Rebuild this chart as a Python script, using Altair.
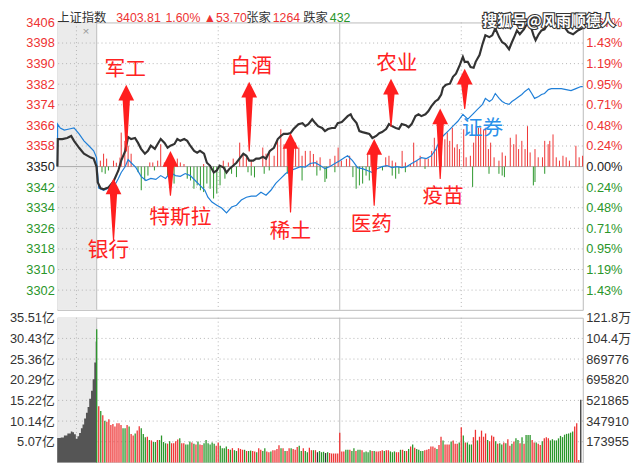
import altair as alt
import pandas as pd

# ---------------- data ----------------
black_line = [(-19.4, 3350.0), (-19.2, 3360.7), (-17.0, 3360.7), (-14.6, 3361.1), (-12.6, 3361.9), (-11.2, 3360.0),
    (-8.7, 3357.3), (-6.3, 3355.0), (-2.9, 3353.5), (-1.5, 3353.1), (-0.1, 3350.0),
    (0.5, 3343.9), (1.9, 3341.6), (3.4, 3341.2), (5.8, 3341.9), (8.3, 3344.2), (10.7, 3348.5), (12.1, 3352.3),
    (14.1, 3356.1), (15.5, 3361.5), (17.0, 3360.7), (18.9, 3361.1), (20.4, 3359.2), (21.9, 3356.9), (23.8, 3355.0),
    (25.3, 3356.1), (26.7, 3358.1), (28.7, 3356.9), (30.1, 3358.8), (31.6, 3360.7), (33.5, 3359.2), (35.0, 3357.3),
    (36.4, 3358.1), (38.4, 3358.8), (39.8, 3360.7), (41.3, 3360.0), (43.2, 3360.7), (44.7, 3360.0), (46.2, 3358.1),
    (48.1, 3356.1), (49.6, 3355.4), (51.0, 3356.1), (53.0, 3355.0), (54.4, 3351.5), (55.9, 3350.4), (57.8, 3347.7),
    (59.3, 3348.5), (60.7, 3350.4), (62.7, 3349.6), (64.1, 3347.7), (65.6, 3349.2), (67.5, 3350.4), (69.0, 3351.5),
    (70.5, 3353.1), (72.4, 3355.0), (73.9, 3354.2), (75.3, 3352.3), (77.3, 3352.3), (78.7, 3353.1), (80.2, 3353.1),
    (82.1, 3353.8), (83.6, 3353.1), (85.5, 3356.1), (87.5, 3357.3), (89.4, 3360.7), (90.9, 3361.9), (92.3, 3362.7),
    (94.3, 3362.7), (95.7, 3363.0), (97.2, 3364.6), (99.6, 3366.5), (101.6, 3366.9), (103.0, 3365.7), (104.5, 3366.5),
    (106.4, 3368.4), (107.9, 3366.9), (109.3, 3365.7), (111.3, 3365.0), (112.7, 3363.8), (114.2, 3364.6), (116.1, 3365.0),
    (117.6, 3365.0), (119.0, 3366.9), (121.0, 3367.3), (122.4, 3368.4), (123.9, 3369.6), (125.4, 3370.3), (126.3, 3368.8),
    (128.3, 3366.9), (129.7, 3363.8), (131.2, 3363.4), (133.1, 3363.0), (134.6, 3362.7), (136.1, 3361.1), (138.0, 3361.9),
    (139.5, 3363.0), (140.9, 3363.4), (142.9, 3364.6), (144.3, 3366.5), (145.8, 3365.7), (147.7, 3365.0), (149.2, 3364.6),
    (150.6, 3366.5), (152.6, 3366.1), (154.0, 3365.3), (155.5, 3366.5), (157.4, 3369.6), (158.9, 3370.3), (160.3, 3369.6),
    (162.3, 3370.3), (163.7, 3371.5), (165.2, 3373.4), (167.1, 3375.3), (168.6, 3376.1), (170.1, 3378.0), (171.0, 3380.7),
    (172.5, 3381.8), (174.4, 3382.2), (175.9, 3384.9), (177.4, 3386.1), (179.3, 3389.5), (180.8, 3392.6), (181.7, 3390.7),
    (183.2, 3390.7), (184.6, 3388.7), (186.1, 3388.4), (187.1, 3390.7), (189.0, 3393.3), (190.5, 3397.6), (191.9, 3401.0),
    (193.9, 3400.3), (195.3, 3401.0), (196.8, 3403.7), (198.7, 3400.3), (200.2, 3398.3), (201.7, 3397.6), (203.6, 3395.6),
    (205.0, 3398.3), (206.5, 3401.0), (207.5, 3402.9), (208.9, 3401.4), (210.9, 3403.3), (212.3, 3405.2), (213.8, 3405.8),
    (215.7, 3401.0), (216.7, 3399.1), (218.2, 3401.4), (219.6, 3402.9), (221.1, 3403.3), (223.0, 3405.8), (224.5, 3404.9),
    (226.0, 3404.1), (227.9, 3405.2), (230.3, 3404.9), (232.8, 3402.2), (235.2, 3401.4), (237.6, 3402.9), (240.0, 3403.8)]

blue_line = [(-19.4, 3350.0), (-19.3, 3366.5), (-18.0, 3365.0), (-16.0, 3364.2), (-13.6, 3364.6), (-11.2, 3365.0),
    (-8.7, 3362.7), (-6.3, 3360.0), (-3.9, 3358.1), (-1.5, 3356.1), (-0.1, 3353.5),
    (1.0, 3341.6), (3.4, 3340.8), (5.8, 3341.6), (8.3, 3341.9), (10.7, 3345.4), (12.1, 3347.7), (14.1, 3350.0),
    (15.5, 3352.7), (17.0, 3351.5), (19.4, 3349.6), (21.9, 3346.2), (24.3, 3344.6), (26.7, 3345.4), (29.2, 3345.0),
    (31.6, 3346.5), (34.0, 3345.4), (36.4, 3347.7), (38.9, 3346.5), (41.3, 3346.2), (43.7, 3347.3), (46.2, 3346.5),
    (48.6, 3344.6), (51.0, 3342.7), (53.4, 3340.8), (54.9, 3338.1), (56.9, 3336.2), (59.3, 3335.0), (61.7, 3333.9),
    (64.1, 3332.0), (66.6, 3334.3), (69.0, 3335.0), (71.4, 3337.0), (73.9, 3338.1), (76.3, 3338.5), (78.7, 3338.5),
    (81.1, 3340.0), (83.6, 3338.9), (86.0, 3340.8), (88.4, 3343.5), (90.9, 3345.4), (93.3, 3347.3), (95.7, 3348.5),
    (98.2, 3349.2), (100.6, 3350.0), (103.0, 3349.8), (105.4, 3351.2), (107.9, 3351.5), (110.3, 3350.4), (112.7, 3349.2),
    (115.2, 3350.0), (117.6, 3351.2), (120.0, 3352.3), (122.4, 3353.5), (123.9, 3354.2), (126.3, 3352.3), (128.8, 3349.6),
    (131.2, 3349.2), (133.6, 3348.5), (136.1, 3347.7), (138.5, 3349.2), (140.9, 3350.0), (143.3, 3350.4), (145.8, 3349.6),
    (148.2, 3350.0), (150.6, 3349.6), (153.1, 3350.0), (155.5, 3351.2), (157.9, 3352.3), (160.3, 3353.5), (162.8, 3353.1),
    (165.2, 3354.2), (167.6, 3356.9), (168.6, 3358.8), (171.0, 3361.9), (173.5, 3363.8), (175.9, 3365.7), (178.3, 3367.6),
    (180.8, 3370.3), (183.2, 3368.4), (185.6, 3370.3), (188.0, 3372.2), (190.5, 3374.2), (191.9, 3376.5), (193.9, 3375.3),
    (195.3, 3376.1), (196.8, 3378.4), (198.7, 3376.5), (200.2, 3375.3), (201.7, 3374.6), (203.6, 3374.2), (205.0, 3375.3),
    (206.5, 3376.1), (208.5, 3377.2), (209.9, 3378.0), (211.4, 3379.2), (213.3, 3380.3), (214.8, 3378.4), (216.2, 3376.5),
    (218.2, 3377.2), (219.6, 3378.0), (221.1, 3378.4), (223.0, 3379.9), (224.5, 3380.3), (226.9, 3380.3), (229.4, 3380.3),
    (231.8, 3379.9), (234.2, 3379.5), (236.6, 3380.3), (239.1, 3381.1), (240.0, 3381.1)]

strength_up = [(1.8, 2.3), (3.4, 5.0), (4.9, 3.1), (8.3, 2.3), (9.7, 1.5), (11.5, 3.5), (12.1, 13.2), (13.9, 10.0),
    (15.5, 8.1), (17.0, 5.0), (26.2, 1.6), (27.7, 1.6), (30.1, 2.3), (31.6, 8.7), (33.4, 1.6), (39.8, 3.1), (41.3, 1.6),
    (43.1, 1.0), (52.8, 1.0), (62.5, 2.3), (65.0, 1.6), (67.4, 3.1), (70.6, 9.3), (72.3, 5.0), (73.9, 3.6), (76.3, 2.3),
    (82.0, 7.4), (83.6, 5.0), (85.2, 6.1), (87.6, 4.2), (89.3, 10.0), (90.9, 14.5), (92.5, 8.7), (94.1, 6.8), (96.6, 8.7),
    (98.2, 9.3), (99.8, 7.4), (101.4, 4.2), (103.0, 6.1), (105.4, 6.1), (107.0, 4.9), (108.7, 2.3), (110.3, 3.6),
    (115.2, 3.0), (117.6, 4.2), (119.2, 7.4), (120.8, 2.3), (123.3, 3.0), (124.9, 4.2), (133.8, 4.9), (135.4, 6.8),
    (142.7, 3.6), (144.3, 4.2), (145.9, 2.3), (147.6, 1.6), (150.8, 6.1), (152.4, 1.6), (154.9, 1.0), (156.5, 9.3),
    (158.1, 2.3), (159.7, 4.2), (162.1, 3.0), (163.7, 3.1), (165.4, 6.1), (166.7, 11.2), (167.8, 7.4), (169.4, 6.8),
    (170.2, 12.5), (171.9, 10.6), (173.1, 13.2), (174.3, 10.0), (175.6, 15.1), (176.7, 7.4), (178.0, 8.7), (179.1, 6.8),
    (181.2, 14.5), (182.4, 3.6), (184.5, 4.2), (186.1, 9.3), (187.2, 15.7), (188.5, 15.1), (189.6, 15.1), (191.0, 14.5),
    (192.1, 15.1), (193.4, 6.8), (194.5, 9.3), (196.2, 3.6), (198.6, 2.3), (200.2, 5.5), (201.8, 4.2), (204.2, 11.2),
    (205.9, 8.7), (207.1, 12.5), (208.3, 6.8), (209.9, 10.0), (211.5, 6.8), (212.7, 15.7), (214.0, 5.5), (216.4, 6.8),
    (218.0, 3.6), (220.1, 3.6), (221.2, 10.0), (222.9, 8.7), (223.7, 10.0), (225.3, 12.5), (226.9, 3.6), (228.5, 2.3),
    (230.2, 4.2), (231.8, 3.6), (233.4, 2.3), (236.6, 8.1), (238.2, 3.6), (239.9, 4.2)]

strength_down = [(2.6, -2.2), (4.2, -2.8), (5.8, -1.5), (20.4, -2.2), (22.0, -9.2), (23.7, -5.4), (25.3, -3.5),
    (28.5, -1.5), (35.0, -3.5), (36.6, -2.2), (38.2, -6.6), (44.7, -4.7), (46.3, -5.4), (48.0, -8.6), (49.6, -7.3),
    (51.2, -9.2), (52.8, -9.9), (54.4, -6.6), (56.0, -8.6), (57.7, -12.4), (59.3, -10.5), (60.9, -7.3), (63.3, -4.7),
    (66.6, -2.8), (69.0, -4.1), (74.7, -2.2), (76.3, -3.5), (77.9, -4.2), (82.7, -2.8), (85.2, -1.5), (94.1, -2.8),
    (101.4, -5.4), (108.7, -3.5), (110.3, -1.5), (112.7, -6.0), (113.5, -4.7), (117.6, -2.2), (126.5, -4.1),
    (128.1, -8.6), (129.7, -7.3), (131.3, -6.6), (133.0, -3.5), (134.6, -5.4), (136.2, -2.8), (141.1, -1.5),
    (145.9, -3.5), (147.6, -4.7), (149.2, -2.8), (152.4, -2.2), (162.1, -0.9), (185.6, -7.9), (193.7, -2.8),
    (198.6, -2.8), (200.2, -3.5), (201.3, -4.1), (215.6, -7.3), (216.4, -6.0), (221.2, -2.8)]

# minute volume (亿), minutes 0..239
vol_values = [32.7, 13.8, 12.6, 11.6, 10.2, 10.0, 10.6, 9.2, 9.4, 8.8, 9.6, 9.6, 9.2, 8.4, 8.4, 9.2, 8.8, 7.0, 6.6, 7.1,
    7.8, 8.9, 8.4, 7.0, 6.2, 6.3, 5.5, 5.4, 5.0, 5.0, 5.5, 5.5, 6.6, 5.0, 4.7, 4.6, 5.2, 4.7, 4.7, 5.2,
    5.6, 5.9, 4.7, 4.7, 4.4, 4.4, 5.1, 4.9, 4.6, 4.4, 5.1, 4.4, 4.3, 4.7, 5.5, 4.7, 4.4, 4.9, 4.6, 4.1,
    4.9, 4.1, 3.5, 3.5, 3.9, 3.3, 3.1, 3.5, 3.0, 2.8, 3.5, 3.3, 3.1, 3.1, 2.8, 2.8, 2.9, 2.8, 2.7, 2.5,
    3.5, 3.1, 2.8, 3.5, 2.7, 2.5, 2.7, 3.0, 3.0, 3.3, 4.2, 3.5, 3.5, 2.8, 2.8, 3.5, 3.5, 3.3, 3.1, 3.8,
    4.1, 2.8, 3.5, 2.8, 2.5, 3.6, 3.0, 3.0, 3.0, 2.5, 2.8, 2.5, 2.6, 2.3, 2.5, 2.3, 2.2, 2.2, 2.2, 2.2,
    7.3, 2.7, 2.7, 3.1, 3.1, 3.1, 2.8, 3.5, 2.8, 3.1, 3.1, 3.0, 2.5, 2.7, 2.5, 3.0, 2.8, 2.8, 2.7, 2.7,
    2.8, 3.0, 2.8, 3.0, 3.0, 2.7, 2.5, 2.7, 2.5, 2.5, 3.1, 3.1, 2.8, 2.8, 3.3, 3.9, 4.4, 3.6, 3.3, 3.1,
    2.8, 2.8, 3.0, 3.1, 3.3, 3.9, 3.9, 3.6, 3.3, 4.3, 6.3, 5.4, 4.4, 4.4, 4.4, 5.1, 5.4, 4.6, 4.6, 4.9,
    8.6, 6.6, 4.9, 4.9, 4.4, 4.4, 6.2, 8.0, 5.4, 6.3, 7.8, 6.3, 7.1, 5.5, 5.2, 6.6, 6.3, 5.2, 4.6, 4.7,
    4.4, 4.9, 4.7, 5.7, 4.1, 4.6, 5.1, 5.9, 5.5, 4.7, 6.2, 4.6, 6.7, 6.7, 6.7, 5.5, 4.9, 4.9, 4.6, 4.3,
    5.2, 5.9, 6.2, 5.9, 5.4, 5.7, 5.4, 5.4, 5.9, 6.5, 6.2, 6.8, 7.0, 7.1, 7.3, 7.6, 8.8, 9.6, 0.6, 15.4]
# bar colour per minute: r = up, g = down, k = flat / closing auction (groups of ten minutes)
vol_codes = ("grgrgrrrrr rrrggrgrrg rrgggrgrgg rggggrgrrr rgrrgggrgr grrggggggr"
             " rggggrgrgg rrrgrggrrg rrggrrgrrr rgrgrrgrrr ggrggrrgrk ggg kgrrrrr"
             " rrrggrggrg grggggrgrr rrgrrgggrr grgrgrgrgg ggrrrrrrgr rgrrrgrrrg"
             " rgrgggrrgr rrrgrrrgrg grgrrgrggr grgggrrgrr grrrgggggg ggggggrrrk").replace(" ", "")

auction_vol = [(-19.5, 6.0), (-17.8, 6.1), (-16.2, 6.6), (-14.5, 7.1), (-12.8, 7.6), (-12.0, 7.4), (-11.2, 6.9),
    (-10.3, 5.8), (-9.5, 6.4), (-8.7, 7.2), (-7.8, 8.4), (-7.0, 9.3), (-6.2, 10.8), (-5.3, 12.2), (-4.5, 13.6),
    (-3.7, 15.6), (-2.8, 17.6), (-2.0, 20.4), (-1.2, 24.5), (-0.5, 29.7), (0.0, 29.7)]

price_ticks = [3302, 3310, 3318, 3326, 3334, 3342, 3350, 3358, 3366, 3374, 3382, 3390, 3398, 3406]
pct_labels = ["0.00%", "0.24%", "0.48%", "0.71%", "0.95%", "1.19%", "1.43%", "1.67%"]
vol_ticks = [5.07, 10.14, 15.22, 20.29, 25.36, 30.43, 35.51]
vol_right_labels = ["173955", "347910", "521865", "695820", "869776", "104.4万", "121.8万"]

note_text = ["军工", "白酒", "农业", "银行", "特斯拉", "稀土", "医药", "疫苗", "证券"]
note_t = [14.1, 76.3, 148.2, 5.8, 41.3, 95.7, 135.6, 171.0, 190.5]
note_p = [3387.6, 3388.7, 3389.9, 3317.0, 3330.1, 3324.7, 3327.4, 3338.1, 3364.6]
note_kind = ["r", "r", "r", "r", "r", "r", "r", "r", "b"]

arrow_t = [14.6, 8.3, 36.4, 75.3, 95.7, 137.0, 145.3, 169.6, 181.7]
arrow_tip = [3381.8, 3345.4, 3356.1, 3383.0, 3363.0, 3360.7, 3384.1, 3372.6, 3388.0]
arrow_tail = [3356.1, 3321.6, 3338.9, 3356.1, 3332.4, 3335.0, 3365.7, 3345.4, 3372.6]

header_text = ["上证指数", "3403.81", "1.60%", "▲53.70", "张家", "1264", "跌家", "432"]
header_kind = ["k", "r", "r", "r", "k", "r", "k", "g"]
watermark = "搜狐号@风雨顺德人"

# ---------------- style ----------------
RED, GREEN, BLACK, BLUE = "#ee3333", "#2a962a", "#222222", "#1f7fd8"
NOTE_RED, NOTE_BLUE = "#ff2222", "#2a90ea"
KIND_COLOR = {"r": RED, "g": GREEN, "k": "#333333", "b": NOTE_BLUE}
FONT = "Liberation Sans, Arial, Noto Sans CJK SC"
CJK = "Noto Sans CJK SC"
W, H1, H2 = 534, 292, 147
X_DOM = [-19.5, 240]
PX_PER_PT = 2.615
P_DOM = [3406 - H1 / PX_PER_PT, 3406]
V_DOM = [0, 35.51]
header_x = [0, 60, 110, 149, 192, 219, 250, 277]

xs = alt.Scale(domain=X_DOM, nice=False, zero=False)
ps = alt.Scale(domain=P_DOM, nice=False, zero=False)
vs = alt.Scale(domain=V_DOM, nice=False, zero=False)


def xq(field):
    return alt.X(field, type="quantitative", scale=xs, axis=None)


def yp(field, axis=None):
    return alt.Y(field, type="quantitative", scale=ps, axis=axis)


def yv(field, axis=None):
    return alt.Y(field, type="quantitative", scale=vs, axis=axis)


price_color = {"condition": [{"test": "datum.value > 3350.5", "value": RED},
                             {"test": "datum.value < 3349.5", "value": GREEN}],
               "value": BLACK}

# ---------------- tables ----------------
bg_df = pd.DataFrame({"t0": [X_DOM[0]], "t1": [0.0]})
tick_df = pd.DataFrame({"p": price_ticks})
grid_df = pd.DataFrame({"p": [v for v in price_ticks if v not in (3350, 3406)]})
vdot_df = pd.DataFrame({"t": [-10, 60, 180]})
vsolid_df = pd.DataFrame({"t": [0, 120]})
black_df = pd.DataFrame(black_line, columns=["t", "p"])
blue_df = pd.DataFrame(blue_line, columns=["t", "p"])
sb = pd.DataFrame(strength_up + strength_down, columns=["t", "v"])
sb["p0"] = 3350.0
sb["p1"] = 3350.0 + sb["v"]
sb["c"] = [RED if v > 0 else GREEN for v in sb["v"]]

head_pts = 16 / PX_PER_PT
trail_rows, head_rows = [], []
for i, (t, tip, tail) in enumerate(zip(arrow_t, arrow_tip, arrow_tail)):
    trail_rows.append({"id": i, "t": t, "p": tip - head_pts * 0.9, "w": 7.5, "o": 0})
    trail_rows.append({"id": i, "t": t, "p": tail, "w": 1.2, "o": 1})
    head_rows.append({"t": t, "p": tip - head_pts / 2})
trail_df = pd.DataFrame(trail_rows)
head_df = pd.DataFrame(head_rows)
note_df = pd.DataFrame({"txt": note_text, "t": note_t, "p": note_p,
                        "c": [NOTE_RED if k == "r" else NOTE_BLUE for k in note_kind]})
header_df = pd.DataFrame({"txt": header_text, "x": header_x, "c": [KIND_COLOR[k] for k in header_kind]})

codes = vol_codes.ljust(len(vol_values), "r")
vol_df = pd.DataFrame({"t": list(range(len(vol_values))), "v": vol_values,
                       "c": [KIND_COLOR[codes[i]] for i in range(len(vol_values))]})
vol_df["z"] = 0.0
auc_df = pd.DataFrame(auction_vol, columns=["t", "v"])
vtick_df = pd.DataFrame({"v": vol_ticks})
vgrid_df = pd.DataFrame({"v": vol_ticks[:-1]})

# ---------------- top panel ----------------
bg = alt.Chart(bg_df).mark_rect(color="#ebebeb").encode(
    x=xq("t0"), x2="t1", y=alt.value(0), y2=alt.value(H1))
hgrid = alt.Chart(grid_df).mark_rule(color="#b4b4b4", strokeDash=[1, 3]).encode(y=yp("p"))
mid = alt.Chart(pd.DataFrame({"p": [3350]})).mark_rule(color="#aaaaaa", strokeWidth=1).encode(y=yp("p"))
vdot = alt.Chart(vdot_df).mark_rule(color="#b4b4b4", strokeDash=[1, 3]).encode(x=xq("t"))
vsolid = alt.Chart(vsolid_df).mark_rule(color="#bdbdbd").encode(x=xq("t"))
bars = alt.Chart(sb).mark_rule(strokeWidth=1).encode(
    x=xq("t"), y=yp("p0"), y2="p1", color=alt.Color("c:N", scale=None))
blue = alt.Chart(blue_df).mark_line(color=BLUE, strokeWidth=1.2).encode(x=xq("t"), y=yp("p"))
black = alt.Chart(black_df).mark_line(color="#333333", strokeWidth=2.2).encode(x=xq("t"), y=yp("p"))
trail = alt.Chart(trail_df).mark_trail(color="#ff1f1f").encode(
    x=xq("t"), y=yp("p"), size=alt.Size("w:Q", scale=None), detail="id:N", order="o:Q")
heads = alt.Chart(head_df).mark_point(
    shape="M0,-1L1,1L-1,1Z", size=256, filled=True, color="#ff1f1f", opacity=1, strokeWidth=0
).encode(x=xq("t"), y=yp("p"))
notes = alt.Chart(note_df).mark_text(font=CJK, fontSize=21).encode(
    x=xq("t"), y=yp("p"), text="txt:N", color=alt.Color("c:N", scale=None))
close_icon = alt.Chart(pd.DataFrame({"t": [-5.3], "p": [3402.6], "s": ["×"]})).mark_text(
    fontSize=12, color="#9a9a9a", font=FONT).encode(x=xq("t"), y=yp("p"), text="s:N")
header = alt.Chart(header_df).mark_text(font=FONT, fontSize=12.5, align="left", baseline="middle").encode(
    x=alt.X("x:Q", scale=None, axis=None), y=alt.value(-4), text="txt:N", color=alt.Color("c:N", scale=None))
wm_df = pd.DataFrame({"s": [watermark]})
wm_back = alt.Chart(wm_df).mark_text(font=CJK, fontSize=15, align="left", baseline="middle", fontWeight="bold",
                                     color="#333333", stroke="#333333", strokeWidth=2.2).encode(
    x=alt.value(432), y=alt.value(-1), text="s:N")
wm_front = alt.Chart(wm_df).mark_text(font=CJK, fontSize=15, align="left", baseline="middle", fontWeight="bold",
                                      color="#ffffff").encode(x=alt.value(432), y=alt.value(-1), text="s:N")

axis_common = dict(values=price_ticks, labelColor=price_color, domain=False, ticks=False, grid=False,
                   labelPadding=3, labelFlush=False, labelOverlap=False, labelBound=False,
                   minExtent=45, maxExtent=45, title=None, labelFont=FONT, labelFontSize=13)
left_axis_layer = alt.Chart(tick_df).mark_rule(opacity=0).encode(
    y=yp("p", alt.Axis(orient="left", format="d", **axis_common)))
pct_expr = "[" + ",".join("'%s'" % s for s in pct_labels) + "][round(abs(datum.value-3350)/8)]"
right_axis_layer = alt.Chart(tick_df).mark_rule(opacity=0).encode(
    y=yp("p", alt.Axis(orient="right", labelExpr=pct_expr, **axis_common)))

top = alt.layer(bg, hgrid, vdot, vsolid, mid, bars, blue, black, trail, heads, notes, close_icon,
                header, wm_back, wm_front, left_axis_layer, right_axis_layer
                ).resolve_axis(y="independent").properties(width=W, height=H1)

# ---------------- volume panel ----------------
bg2 = alt.Chart(bg_df).mark_rect(color="#ebebeb").encode(
    x=xq("t0"), x2="t1", y=alt.value(0), y2=alt.value(H2))
hgrid2 = alt.Chart(vgrid_df).mark_rule(color="#b4b4b4", strokeDash=[1, 3]).encode(y=yv("v"))
vdot2 = alt.Chart(vdot_df).mark_rule(color="#b4b4b4", strokeDash=[1, 3]).encode(x=xq("t"))
vsolid2 = alt.Chart(vsolid_df).mark_rule(color="#bdbdbd").encode(x=xq("t"))
auction = alt.Chart(auc_df).mark_area(color="#555555", interpolate="step-after", opacity=1).encode(
    x=xq("t"), y=yv("v"))
vbars = alt.Chart(vol_df).mark_rule(strokeWidth=1.3).encode(
    x=xq("t"), y=yv("z"), y2="v", color=alt.Color("c:N", scale=None))
vaxis_common = dict(values=vol_ticks, labelColor="#333333", domain=False, ticks=False, grid=False,
                    labelPadding=3, labelFlush=False, labelOverlap=False, labelBound=False,
                    minExtent=45, maxExtent=45, title=None, labelFont=FONT, labelFontSize=13)
vleft = alt.Chart(vtick_df).mark_rule(opacity=0).encode(
    y=yv("v", alt.Axis(orient="left", labelExpr="format(datum.value, '.2f') + '亿'", **vaxis_common)))
vr_expr = "[" + ",".join("'%s'" % s for s in vol_right_labels) + "][round(datum.value/5.073)-1]"
vright = alt.Chart(vtick_df).mark_rule(opacity=0).encode(
    y=yv("v", alt.Axis(orient="right", labelExpr=vr_expr, **vaxis_common)))

bottom = alt.layer(bg2, hgrid2, vdot2, vsolid2, auction, vbars, vleft, vright
                   ).resolve_axis(y="independent").properties(width=W, height=H2)

chart = alt.vconcat(top, bottom, spacing=0).properties(
    padding={"left": 0, "top": 0, "right": 0, "bottom": 0}, background="white"
).configure_view(stroke="#bbbbbb", strokeWidth=1)

chart.save("out.html", embed_options={"renderer": "svg", "actions": False})
